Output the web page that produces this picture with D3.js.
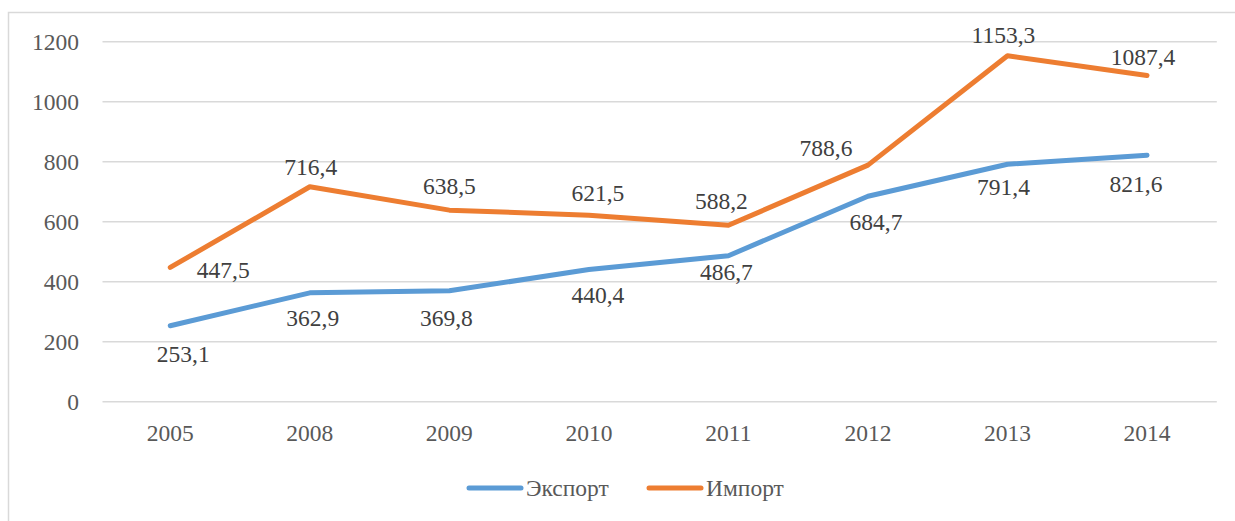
<!DOCTYPE html>
<html>
<head>
<meta charset="utf-8">
<script src="https://cdn.jsdelivr.net/npm/d3@7"></script>
<style>
  html, body { margin: 0; padding: 0; background: #fff; }
  svg { display: block; }
</style>
</head>
<body>
<svg id="chart" width="1235" height="521"></svg>
<script>
const categories = ["2005", "2008", "2009", "2010", "2011", "2012", "2013", "2014"];
const exportValues = [253.1, 362.9, 369.8, 440.4, 486.7, 684.7, 791.4, 821.6];
const importValues = [447.5, 716.4, 638.5, 621.5, 588.2, 788.6, 1153.3, 1087.4];
const seriesNames = ["Экспорт", "Импорт"];
const yTicks = [0, 200, 400, 600, 800, 1000, 1200];

const colors = ["#5b9bd5", "#ed7d31"];
const fontStack = '"Liberation Serif", "Times New Roman", Tinos, "DejaVu Serif", "Noto Serif", FreeSerif, serif';

const svg = d3.select("#chart");

// outer frame
svg.append("rect")
  .attr("x", 8.5).attr("y", 12.5)
  .attr("width", 1240).attr("height", 520)
  .attr("fill", "#fff").attr("stroke", "#d9d9d9").attr("stroke-width", 1.5);

const plot = { left: 100.5, right: 1216.8, top: 41.7, bottom: 401.7 };

const x = d3.scaleBand().domain(categories).range([plot.left, plot.right]);
const cx = d => x(d) + x.bandwidth() / 2;
const y = d3.scaleLinear().domain([0, 1200]).range([plot.bottom, plot.top]);

// gridlines
svg.append("g")
  .selectAll("line")
  .data(yTicks)
  .join("line")
  .attr("x1", plot.left + 2).attr("x2", plot.right)
  .attr("y1", d => y(d)).attr("y2", d => y(d))
  .attr("stroke", "#d9d9d9").attr("stroke-width", 1.6);

function styleText(sel, color) {
  sel.style("font-family", fontStack)
     .style("font-size", "23.5px")
     .attr("fill", color);
}

// y axis labels
const yAxis = d3.axisLeft(y).tickValues(yTicks).tickSize(0).tickPadding(0).tickFormat(d3.format("d"));
const yg = svg.append("g").attr("transform", "translate(79,0)").call(yAxis)
  .attr("font-family", null).attr("font-size", null);
yg.select(".domain").remove();
yg.selectAll("text").call(styleText, "#595959").attr("dy", "0.35em");

// x axis labels
const xAxis = d3.axisBottom(x).tickSize(0).tickPadding(0);
const xg = svg.append("g").attr("transform", "translate(0,433)").call(xAxis)
  .attr("font-family", null).attr("font-size", null);
xg.select(".domain").remove();
xg.selectAll("text").call(styleText, "#595959").attr("y", 0).attr("dy", "0.35em");

const series = [
  { name: seriesNames[0], values: exportValues, color: colors[0] },
  { name: seriesNames[1], values: importValues, color: colors[1] }
];

const line = d3.line()
  .x((d, i) => cx(categories[i]))
  .y(d => y(d));

series.forEach(s => {
  svg.append("path")
    .datum(s.values)
    .attr("d", line)
    .attr("fill", "none")
    .attr("stroke", s.color)
    .attr("stroke-width", 5)
    .attr("stroke-linejoin", "round")
    .attr("stroke-linecap", "round");
});

// data labels (layout tweaks by series/category index)
const labelTweaks = {
  "0-0": [13, 28], "0-1": [3, 25], "0-2": [-3, 27], "0-3": [9, 25], "0-4": [-2, 16],
  "0-5": [8, 25], "0-6": [-4, 22], "0-7": [-11, 29],
  "1-0": [53, 2], "1-1": [1, -20], "1-2": [0, -24], "1-3": [9, -22], "1-4": [-7, -24],
  "1-5": [-42, -17], "1-6": [-4, -21], "1-7": [-4, -19]
};
const fmt = v => d3.format(".1f")(v).replace(".", ",");

series.forEach((s, si) => {
  svg.append("g")
    .selectAll("text")
    .data(s.values)
    .join("text")
    .attr("x", (d, i) => cx(categories[i]) + labelTweaks[si + "-" + i][0])
    .attr("y", (d, i) => y(d) + labelTweaks[si + "-" + i][1])
    .attr("dy", "0.35em")
    .attr("text-anchor", "middle")
    .call(styleText, "#404040")
    .text(d => fmt(d));
});

// legend
const legendItems = [
  { name: seriesNames[0], color: colors[0], x1: 467, x2: 523 },
  { name: seriesNames[1], color: colors[1], x1: 647, x2: 703 }
];
const lg = svg.append("g");
legendItems.forEach(it => {
  lg.append("line")
    .attr("x1", it.x1 + 2).attr("x2", it.x2 - 2)
    .attr("y1", 488).attr("y2", 488)
    .attr("stroke", it.color).attr("stroke-width", 5).attr("stroke-linecap", "round");
  lg.append("text")
    .attr("x", it.x2 + 3).attr("y", 488).attr("dy", "0.35em")
    .call(styleText, "#595959")
    .text(it.name);
});
</script>
</body>
</html>
